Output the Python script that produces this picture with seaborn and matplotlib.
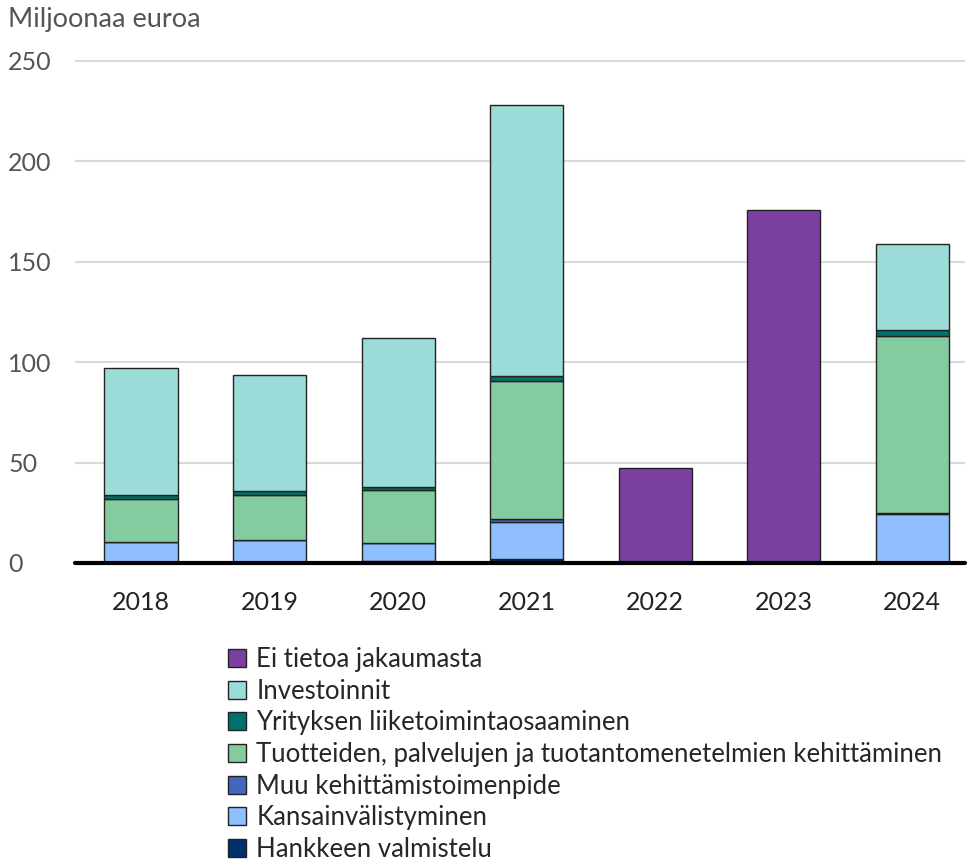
import numpy as np
import pandas as pd
import matplotlib
matplotlib.use("Agg")
import matplotlib.pyplot as plt
from matplotlib.patches import Patch
import seaborn as sns

years = ["2018", "2019", "2020", "2021", "2022", "2023", "2024"]
hankkeen = [0.5, 0.5, 1.0, 1.8, 0.0, 0.0, 0.5]
kansainv = [9.8, 10.8, 8.8, 18.8, 0.0, 0.0, 23.9]
muu = [0.3, 0.3, 0.3, 1.2, 0.0, 0.0, 0.3]
tuotteiden = [21.4, 22.4, 26.3, 68.8, 0.0, 0.0, 88.1]
yritys = [1.8, 2.0, 1.6, 2.5, 0.0, 0.0, 3.0]
investoinnit = [63.4, 57.7, 74.0, 134.9, 0.0, 0.0, 43.2]
ei_tietoa = [0.0, 0.0, 0.0, 0.0, 47.2, 175.8, 0.0]

series_names = [
    "Hankkeen valmistelu",
    "Kansainvälistyminen",
    "Muu kehittämistoimenpide",
    "Tuotteiden, palvelujen ja tuotantomenetelmien kehittäminen",
    "Yrityksen liiketoimintaosaaminen",
    "Investoinnit",
    "Ei tietoa jakaumasta",
]
series_values = [hankkeen, kansainv, muu, tuotteiden, yritys, investoinnit, ei_tietoa]
colors = ["#00306E", "#8FBFFF", "#4466C0", "#85CBA0", "#00706B", "#9BDCD8", "#7B3FA0"]

sns.set_theme(style="white")
plt.rcParams["font.family"] = ["Lato", "DejaVu Sans"]

fig = plt.figure(figsize=(9.69, 8.65), dpi=100)
ax = fig.add_axes([75 / 969, (865 - 563) / 865, 890 / 969, (563 - 61) / 865 * 250.5 / 250])

bottom = np.zeros(len(years))
for name, vals, col in zip(series_names, series_values, colors):
    vals = np.array(vals, dtype=float)
    df = pd.DataFrame({"year": years, "value": vals})
    sns.barplot(data=df, x="year", y="value", order=years, color=col,
                bottom=bottom, width=0.57, edgecolor="#222222", linewidth=1.0,
                saturation=1, ax=ax, errorbar=None, zorder=3)
    bottom = bottom + vals

# remove zero-height patches
for p in list(ax.patches):
    if p.get_height() <= 0:
        p.remove()

ax.set_xlim(-0.514, 6.41)
ax.set_ylim(0, 250.5)
ax.set_yticks([0, 50, 100, 150, 200, 250])
ax.yaxis.grid(True, color="#d9d9d9", linewidth=1.5, zorder=0)
ax.xaxis.grid(False)
for s in ax.spines.values():
    s.set_visible(False)
ax.axhline(0, color="black", linewidth=3, zorder=5, clip_on=False)
ax.set_xlabel("")
ax.set_ylabel("")
ax.tick_params(axis="y", length=0, pad=48, labelsize=18, labelcolor="#555555")
for lab in ax.get_yticklabels():
    lab.set_horizontalalignment("left")
ax.tick_params(axis="x", length=0, pad=20, labelsize=18, labelcolor="#222222")

fig.text(8 / 969, 1 - 20 / 865, "Miljoonaa euroa", fontsize=19.5, color="#555555",
         ha="left", va="center")

handles = [Patch(facecolor=c, edgecolor="#222222", linewidth=1.0) for c in colors[::-1]]
labels = series_names[::-1]
fig.legend(handles, labels, loc="upper left", bbox_to_anchor=(228 / 969, 1 - 647 / 865),
           frameon=False, fontsize=18.5, handlelength=0.7, handleheight=0.7,
           handletextpad=0.4, labelspacing=0.26, borderpad=0, borderaxespad=0)

fig.savefig("out.png", dpi=100)
